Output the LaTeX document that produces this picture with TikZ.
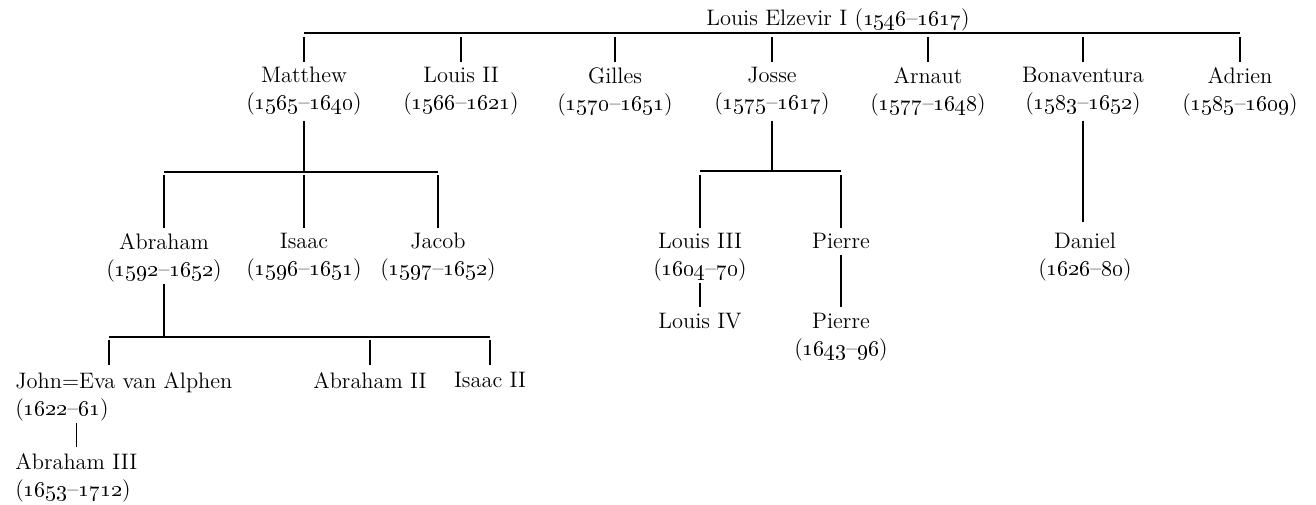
\documentclass[tikz,border=0pt]{standalone}
\newcommand{\yrs}[2]{(\oldstylenums{#1}\textendash\oldstylenums{#2})}

\begin{document}
\begin{tikzpicture}[x=0.5pt, y=-0.5pt,
    person/.style={align=center, anchor=north, inner sep=0pt,
                   font=\fontsize{11.2}{13.5}\selectfont},
    link/.style={line width=0.75pt}]
    \useasboundingbox (0,0) rectangle (1316,504);
    % 始祖
    \node[person, anchor=base] (louis1) at (838,25) {Louis Elzevir I \yrs{1546}{1617}};
    \coordinate (bar1l) at (304,33);
    \coordinate (bar1r) at (1240,33);
    \draw[link] (bar1l) -- (bar1r);
    % 第二代
    \node[person] (matthew) at (304,67) {Matthew\\\yrs{1565}{1640}};
    \node[person] (louis2) at (461,67) {Louis II\\\yrs{1566}{1621}};
    \node[person] (gilles) at (615,67) {Gilles\\\yrs{1570}{1651}};
    \node[person] (josse) at (772,67) {Josse\\\yrs{1575}{1617}};
    \node[person] (arnaut) at (928,67) {Arnaut\\\yrs{1577}{1648}};
    \node[person] (bonav) at (1083,67) {Bonaventura\\\yrs{1583}{1652}};
    \node[person] (adrien) at (1240,67) {Adrien\\\yrs{1585}{1609}};
    \foreach \c in {matthew,louis2,gilles,josse,arnaut,bonav,adrien}
        \draw[link, shorten <=2pt, shorten >=2.5pt] (\c.north |- bar1l) -- (\c.north);
    % 第三代
    \node[person] (abraham) at (164,233) {Abraham\\\yrs{1592}{1652}};
    \node[person] (isaac) at (304,233) {Isaac\\\yrs{1596}{1651}};
    \node[person] (jacob) at (438,233) {Jacob\\\yrs{1597}{1652}};
    \node[person] (louis3) at (700,233) {Louis III\\(\oldstylenums{1604}\textendash\oldstylenums{70})};
    \node[person] (pierre) at (841,233) {Pierre};
    \node[person] (daniel) at (1085,233) {Daniel\\(\oldstylenums{1626}\textendash\oldstylenums{80})};
    \coordinate (bar2l) at (164,172);
    \coordinate (bar2r) at (438,172);
    \draw[link] (bar2l) -- (bar2r);
    \draw[link, shorten <=2.5pt] (matthew.south) -- (matthew.south |- bar2l);
    \foreach \c in {abraham,isaac,jacob}
        \draw[link, shorten <=1.5pt, shorten >=2.5pt] (\c.north |- bar2l) -- (\c.north);
    \coordinate (bar3l) at (700,171);
    \coordinate (bar3r) at (841,171);
    \draw[link] (bar3l) -- (bar3r);
    \draw[link, shorten <=2.5pt] (josse.south) -- (josse.south |- bar3l);
    \foreach \c in {louis3,pierre}
        \draw[link, shorten <=2pt, shorten >=2.5pt] (\c.north |- bar3l) -- (\c.north);
    \draw[link, shorten <=2.5pt, shorten >=5.5pt] (bonav.south) -- (bonav.south |- daniel.north);
    % 第四代
    \node[person] (louis4) at (700,313) {Louis IV};
    \node[person] (pierre2) at (841,313) {Pierre\\(\oldstylenums{1643}\textendash\oldstylenums{96})};
    \draw[link, shorten <=0.5pt, shorten >=3pt] (louis4.north |- louis3.south) -- (louis4.north);
    \draw[link, shorten <=3pt, shorten >=3pt] (pierre.south) -- (pierre2.north);
    \node[person, align=left, anchor=north west] (john) at (15,372)
        {John=Eva van Alphen\\(\oldstylenums{1622}\textendash\oldstylenums{61})};
    \node[person] (abraham2) at (370,372) {Abraham II};
    \node[person] (isaac2) at (490,372) {Isaac II};
    \coordinate (bar4l) at (109,337);
    \coordinate (bar4r) at (490,337);
    \draw[link] (bar4l) -- (bar4r);
    \draw[link, shorten <=1pt] (abraham.south) -- (abraham.south |- bar4l);
    \draw[link, shorten <=1.5pt, shorten >=3.5pt] (bar4l) -- (bar4l |- john.north);
    \foreach \c in {abraham2,isaac2}
        \draw[link, shorten <=1.5pt, shorten >=3.5pt] (\c.north |- bar4l) -- (\c.north);
    % 第五代
    \node[person, align=left, anchor=north west] (abraham3) at (15,453)
        {Abraham III\\\yrs{1653}{1712}};
    \draw[link, shorten <=1pt, shorten >=3pt] (john.south -| abraham3.north) -- (abraham3.north);
\end{tikzpicture}
\end{document}
